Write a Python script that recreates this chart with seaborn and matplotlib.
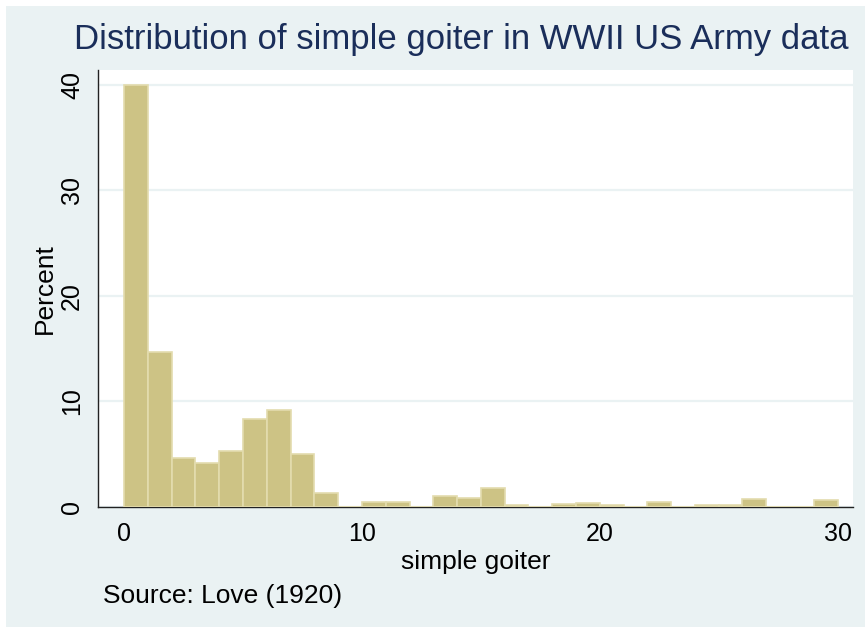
import numpy as np
import pandas as pd
import seaborn as sns
import matplotlib.pyplot as plt
from matplotlib.patches import Rectangle

# Data: percent of observations in each unit-width bin of simple goiter rate
bin_left = list(range(0, 30))
percent = [40.0, 14.7, 4.6, 4.2, 5.3, 8.3, 9.2, 5.0, 1.3, 0.0,
           0.45, 0.45, 0.0, 1.04, 0.82, 1.77, 0.19, 0.0, 0.28, 0.38,
           0.19, 0.0, 0.47, 0.0, 0.22, 0.22, 0.73, 0.0, 0.0, 0.64]
x_ticks = [0, 10, 20, 30]
y_ticks = [0, 10, 20, 30, 40]

title = "Distribution of simple goiter in WWII US Army data"
xlabel = "simple goiter"
ylabel = "Percent"
note = "Source: Love (1920)"

df = pd.DataFrame({"goiter": [b + 0.5 for b in bin_left], "pct": percent})

sns.set_theme(style="white")
plt.rcParams['font.family'] = ['Liberation Sans', 'DejaVu Sans']

BG = "#eaf2f3"
BAR = "#cdc385"
EDGE = "#e3dcae"
NAVY = "#1a2e5a"

fig = plt.figure(figsize=(8.65, 6.29), dpi=100, facecolor="white")
fig.patches.append(Rectangle((6/865, 2/629), 1, 1 - 8/629, transform=fig.transFigure,
                             facecolor=BG, edgecolor="none", zorder=-10))

ax = fig.add_axes([98/865, 1 - 507/629, (853 - 98)/865, (507 - 70)/629])
ax.set_facecolor("white")

sns.histplot(data=df, x="goiter", weights="pct", binwidth=1, binrange=(0, 30),
             stat="count", color=BAR, edgecolor=EDGE, linewidth=1.2, alpha=1,
             ax=ax, zorder=3)

ax.set_xlim(-1.1, 30.65)
ax.set_ylim(0, 41.4)
ax.set_xticks(x_ticks)
ax.set_yticks(y_ticks)
ax.set_xticklabels([str(t) for t in x_ticks], fontsize=18)
ax.set_yticklabels([str(t) for t in y_ticks], fontsize=18, rotation=90, va="center")
ax.grid(axis="y", color=BG, linewidth=1.6, zorder=0)
ax.grid(axis="x", visible=False)
ax.set_axisbelow(True)

for s in ["top", "right"]:
    ax.spines[s].set_visible(False)
for s in ["left", "bottom"]:
    ax.spines[s].set_color("#222222")
    ax.spines[s].set_linewidth(1.0)
ax.tick_params(axis="x", direction="out", length=8, width=1, color="#222222", pad=3, labelcolor="black")
ax.tick_params(axis="y", direction="out", length=6, width=1, color="#222222", pad=4, labelcolor="black")

ax.set_xlabel(xlabel, fontsize=19, color="black", labelpad=3)
ax.set_ylabel(ylabel, fontsize=19, color="black", labelpad=2)

fig.text(461/865, 1 - 39/629, title, fontsize=25, color=NAVY, ha="center", va="center")
fig.text(103/865, 1 - 596/629, note, fontsize=19, color="black", ha="left", va="center")

fig.savefig("out.png", dpi=100, facecolor="white")
